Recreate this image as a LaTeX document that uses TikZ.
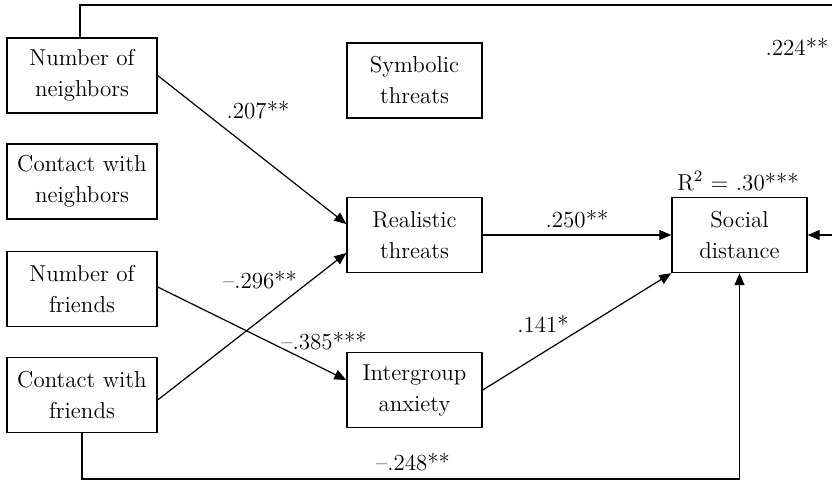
\documentclass[tikz,border=0pt]{standalone}
\usetikzlibrary{arrows.meta,calc}
\begin{document}
\begin{tikzpicture}[x=0.5pt,y=-0.5pt,
  every node/.style={font=\fontsize{11.5}{15.5}\selectfont},
  box/.style={draw,line width=0.7pt,inner sep=0pt,align=center,minimum height=37.5pt},
  lbox/.style={box,minimum width=75pt},
  mbox/.style={box,minimum width=67.5pt},
  lab/.style={inner sep=0pt},
  conn/.style={line width=0.6pt},
  arr/.style={conn,-{Triangle[length=6pt,width=5pt]}}]
\useasboundingbox (0,0) rectangle (832,483);
\clip (0,0) rectangle (832,483);
% nodes
\node[lbox] (nn) at (82,75.5) {Number of\\neighbors};
\node[lbox] (cn) at (82,181.5) {Contact with\\neighbors};
\node[lbox] (nf) at (82,289) {Number of\\friends};
\node[lbox] (cf) at (82,395) {Contact with\\friends};
\node[mbox] (st) at (414.5,80.5) {Symbolic\\threats};
\node[mbox] (rt) at (414.5,235) {Realistic\\threats};
\node[mbox] (ia) at (414.5,390) {Intergroup\\anxiety};
\node[mbox] (sd) at (739.5,235) {Social\\distance};
\coordinate (tl) at (80,5);
\coordinate (tr) at (860,5);
\coordinate (br) at (739.5,479);
% connectors
\draw[arr] (nn.east) -- ($(rt.west)+(0,-11)$);
\draw[arr] ($(cf.east)+(0,5)$) -- ($(rt.west)+(0,18)$);
\draw[arr] ($(nf.east)+(0,-2)$) -- ($(ia.west)+(0,-10)$);
\draw[arr] (rt.east) -- (sd.west);
\draw[arr] (ia.east) -- (sd.south west);
\draw[arr] (cf.south) |- (br) -- (sd.south);
\draw[arr] (nn.north -| tl) -- (tl) -- (tr) |- (sd.east);
% labels
\node[lab] (l224) at (797,47) {.224**};
\node[lab] (l207) at (258,110) {.207**};
\node[lab] (l250) at (577,219) {.250**};
\node[lab] (l296) at (260,280) {--.296**};
\node[lab] (l385) at (324,341) {--.385***};
\node[lab] (l141) at (543,324) {.141*};
\node[lab] (l248) at (413,462) {--.248**};
\node[lab] (lr2) at (738,181) {R$^2$ = .30***};
\end{tikzpicture}
\end{document}
